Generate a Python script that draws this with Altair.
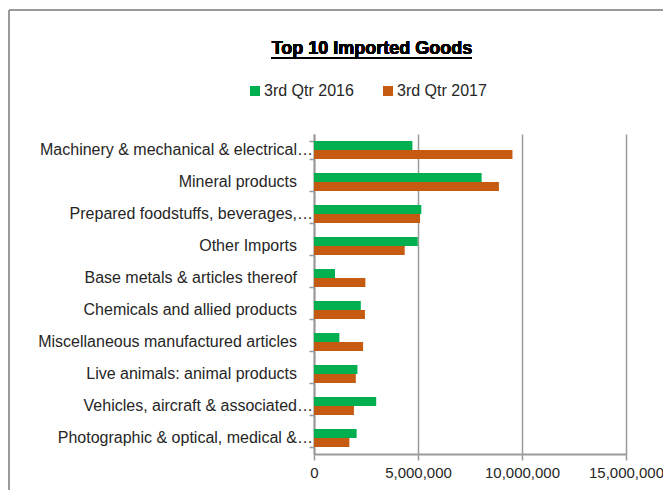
import altair as alt
import pandas as pd

categories = [
    "Machinery & mechanical & electrical…",
    "Mineral products",
    "Prepared foodstuffs, beverages,…",
    "Other Imports",
    "Base metals & articles thereof",
    "Chemicals and allied products",
    "Miscellaneous manufactured articles",
    "Live animals: animal products",
    "Vehicles, aircraft & associated…",
    "Photographic & optical, medical &…",
]
series = ["3rd Qtr 2016", "3rd Qtr 2017"]
q3_2016 = [4730000, 8060000, 5160000, 4990000, 1010000, 2250000, 1220000, 2090000, 2990000, 2050000]
q3_2017 = [9540000, 8890000, 5100000, 4360000, 2470000, 2450000, 2360000, 2010000, 1920000, 1700000]
x_ticks = [0, 5000000, 10000000, 15000000]
colors = ["#00B050", "#C55A11"]
title_text = "Top 10 Imported Goods"

rows = []
for c, a, b in zip(categories, q3_2016, q3_2017):
    rows.append({"category": c, "series": series[0], "value": a})
    rows.append({"category": c, "series": series[1], "value": b})
df = pd.DataFrame(rows)
labels_df = pd.DataFrame({"category": categories})

FONT = "Liberation Sans"
TXT = "#262626"
GRID = "#9a9a9a"

yscale = alt.Scale(domain=categories, paddingInner=0.44, paddingOuter=0.22)

bars = alt.Chart(df).mark_bar().encode(
    y=alt.Y(
        "category:N",
        sort=categories,
        title=None,
        scale=yscale,
        axis=alt.Axis(
            tickBand="extent",
            tickSize=5,
            tickColor=GRID,
            tickWidth=1.5,
            domainColor=GRID,
            domainWidth=2,
            labels=False,
            grid=False,
        ),
    ),
    yOffset=alt.YOffset("series:N", sort=series),
    x=alt.X(
        "value:Q",
        title=None,
        scale=alt.Scale(domain=[0, 15000000], nice=False),
        axis=alt.Axis(
            values=x_ticks,
            format=",d",
            grid=True,
            gridColor=GRID,
            gridWidth=1.5,
            tickSize=6,
            tickColor=GRID,
            tickWidth=1.5,
            domainColor=GRID,
            domainWidth=2,
            labelFont=FONT,
            labelFontSize=15,
            labelColor=TXT,
            labelPadding=5,
            labelFlush=False,
            labelOverlap=False,
        ),
    ),
    color=alt.Color(
        "series:N",
        sort=series,
        scale=alt.Scale(domain=series, range=colors),
        legend=alt.Legend(
            title=None,
            orient="none",
            direction="horizontal",
            legendX=-67,
            legendY=-51,
            symbolType="square",
            symbolSize=100,
            symbolStrokeWidth=0,
            labelFont=FONT,
            labelFontSize=16,
            labelColor=TXT,
            labelOffset=1,
            columnPadding=26,
            padding=0,
        ),
    ),
)

# category labels: full labels 17px left of the axis, truncated ones run up to the axis
lab_full = alt.Chart(labels_df).transform_filter(
    "indexof(datum.category, '…') < 0"
).mark_text(align="right", baseline="middle", font=FONT, fontSize=16, color=TXT).encode(
    y=alt.Y("category:N", sort=categories, scale=yscale),
    x=alt.value(-17),
    text="category:N",
)
lab_trunc = alt.Chart(labels_df).transform_filter(
    "indexof(datum.category, '…') >= 0"
).mark_text(align="right", baseline="middle", font=FONT, fontSize=16, color=TXT).encode(
    y=alt.Y("category:N", sort=categories, scale=yscale),
    x=alt.value(-1),
    text="category:N",
)

title = alt.Chart(labels_df).mark_text(
    align="center", baseline="alphabetic", font=FONT, fontSize=18, fontWeight="bold", color="#000000"
).encode(x=alt.value(58), y=alt.value(-80), text=alt.value(title_text))

frame_left = alt.Chart(labels_df).mark_rule(color=GRID, strokeWidth=2).encode(
    x=alt.value(-305), y=alt.value(-124), y2=alt.value(360)
)
frame_top = alt.Chart(labels_df).mark_rule(color=GRID, strokeWidth=2).encode(
    x=alt.value(-305), x2=alt.value(360), y=alt.value(-124)
)
underline = alt.Chart(labels_df).mark_rule(color="#000000", strokeWidth=2).encode(
    x=alt.value(-43), x2=alt.value(158), y=alt.value(-76)
)

chart = alt.layer(frame_left, frame_top, bars, lab_full, lab_trunc, title, underline).properties(
    width=312,
    height=320,
    autosize="none",
    padding={"left": 306, "top": 126, "right": 37, "bottom": 36},
).configure(background="white").configure_view(stroke=None)

chart.save("out.html", embed_options={"renderer": "svg", "actions": False})
